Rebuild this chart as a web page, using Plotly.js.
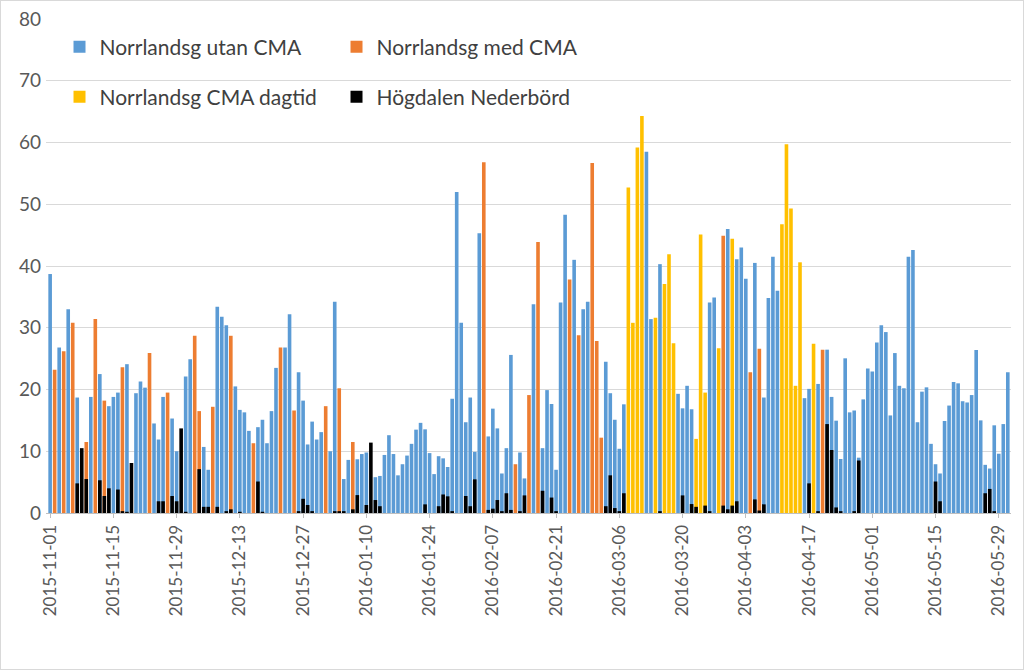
<!DOCTYPE html>
<html>
<head>
<meta charset="utf-8">
<script src="https://cdn.plot.ly/plotly-3.0.1.min.js"></script>
<style>
html,body{margin:0;padding:0;background:#fff;}
#chart{width:1022px;height:668px;border:1px solid #d9d9d9;}
</style>
</head>
<body>
<div id="chart"></div>
<script>
// Day index 0 = 2015-11-01 ... 212 = 2016-05-31
var startDate = '2015-11-01';
var seriesNames = ['Norrlandsg utan CMA', 'Norrlandsg med CMA', 'Norrlandsg CMA dagtid', 'Högdalen Nederbörd'];
var tickStart = '2015-11-01';

var utanCMA = [38.7,null,26.8,null,33.0,null,18.7,null,null,18.8,null,22.5,null,17.3,18.8,19.5,null,24.1,null,19.4,
21.3,20.3,null,14.5,11.9,18.8,null,15.3,10.0,null,22.1,24.9,null,null,10.7,7.0,null,33.4,31.8,30.4,
null,20.5,16.7,16.3,13.3,null,13.9,15.1,11.3,16.5,23.5,null,26.8,32.2,null,22.8,18.2,11.1,14.8,11.9,
13.1,null,10.0,34.2,null,5.5,8.6,null,8.7,9.55,9.8,null,5.8,6.0,9.4,12.6,9.55,6.1,7.9,9.3,
11.2,13.5,14.6,13.55,9.7,6.3,9.2,8.85,7.45,18.5,52.0,30.8,14.7,18.7,9.9,45.3,null,12.4,16.9,13.7,
6.4,10.5,25.6,null,9.8,5.6,null,33.8,null,10.5,19.9,17.65,7.0,34.1,48.3,null,41.0,null,33.0,34.2,
null,null,null,24.5,19.4,15.1,10.4,17.6,null,null,null,null,58.5,31.4,null,40.3,null,null,null,19.3,
16.95,20.6,16.8,null,null,null,34.1,34.9,null,null,46.0,null,41.1,43.0,37.95,null,40.5,null,18.7,34.8,
41.5,36.0,null,null,null,null,null,18.6,20.1,null,20.9,null,26.45,18.8,14.95,8.75,25.05,16.3,16.6,8.96,
18.4,23.4,22.9,27.6,30.4,29.3,15.8,25.9,20.6,20.2,41.5,42.6,14.7,19.65,20.35,11.2,7.9,6.4,14.9,17.4,
21.2,21.0,18.1,17.9,19.1,26.4,15.0,7.8,7.2,14.2,9.6,14.4,22.8];

var medCMA = [null,23.2,null,26.2,null,30.8,null,null,11.5,null,31.4,null,18.2,null,null,null,23.6,null,null,null,
null,null,25.9,null,null,null,19.5,null,null,null,null,null,28.7,16.5,null,null,17.2,null,null,null,
28.7,null,null,null,null,11.3,null,null,null,null,null,26.8,null,null,16.6,null,null,null,null,null,
null,17.3,null,null,20.2,null,null,11.5,null,null,null,null,null,null,null,null,null,null,null,null,
null,null,null,null,null,null,null,null,null,null,null,null,null,null,null,null,56.8,null,null,null,
null,null,null,7.9,null,null,19.1,null,43.9,null,null,null,null,null,null,37.8,null,28.8,null,null,
56.7,27.85,12.2,null,null,null,null,null,null,null,null,null,null,null,null,null,null,null,null,null,
null,null,null,null,null,null,null,null,null,44.9,null,null,null,null,null,22.8,null,26.6,null,null,
null,null,null,null,null,null,null,null,null,null,null,26.45,null,null,null,null,null,null,null,null,
null,null,null,null,null,null,null,null,null,null,null,null,null,null,null,null,null,null,null,null,
null,null,null,null,null,null,null,null,null,null,null,null,null];

var dagtidCMA = [null,null,null,null,null,null,null,null,null,null,null,null,null,null,null,null,null,null,null,null,
null,null,null,null,null,null,null,null,null,null,null,null,null,null,null,null,null,null,null,null,
null,null,null,null,null,null,null,null,null,null,null,null,null,null,null,null,null,null,null,null,
null,null,null,null,null,null,null,null,null,null,null,null,null,null,null,null,null,null,null,null,
null,null,null,null,null,null,null,null,null,null,null,null,null,null,null,null,null,null,null,null,
null,null,null,null,null,null,null,null,null,null,null,null,null,null,null,null,null,null,null,null,
null,null,null,null,null,null,null,null,52.7,30.8,59.2,64.3,null,null,31.6,null,37.1,41.9,27.5,null,
null,null,null,12.0,45.1,19.5,null,null,26.7,null,null,44.4,null,null,null,null,null,null,null,null,
null,null,46.75,59.7,49.3,20.6,40.6,null,null,27.4,null,null,null,null,null,null,null,null,null,null,
null,null,null,null,null,null,null,null,null,null,null,null,null,null,null,null,null,null,null,null,
null,null,null,null,null,null,null,null,null,null,null,null,null];

var nederbord = [null,null,null,null,null,null,4.8,10.5,5.5,null,null,5.3,2.75,4.0,null,3.8,0.3,0.2,8.1,null,
null,null,null,null,1.9,1.9,null,2.75,1.9,13.7,0.2,null,null,7.1,1.0,1.0,null,1.0,null,0.3,
0.6,null,0.2,null,null,null,5.1,0.2,null,null,null,null,null,null,null,0.3,2.3,1.3,0.3,null,
null,null,null,0.3,0.3,0.3,null,0.6,2.9,null,1.3,11.4,2.1,1.1,null,null,null,null,null,null,
null,null,null,1.4,null,null,1.1,3.0,2.7,0.3,null,null,2.75,1.1,5.45,null,null,0.5,0.7,2.1,
0.3,3.2,0.5,null,0.3,2.85,null,null,null,3.6,null,2.5,0.3,null,null,null,null,null,null,null,
null,null,null,1.1,6.1,0.8,0.3,3.2,null,null,null,null,null,null,null,0.3,null,null,null,null,
2.85,null,1.45,1.0,null,1.2,0.3,null,null,1.2,0.6,1.2,1.9,null,null,null,2.2,0.4,1.4,null,
null,null,null,null,null,null,null,null,4.8,null,0.3,null,14.4,10.2,0.9,0.3,null,null,0.3,8.5,
null,null,null,null,null,null,null,null,null,null,null,null,null,null,null,null,5.1,1.9,null,null,
null,null,null,null,null,null,null,3.2,3.9,0.3,null,null,null];

var DAY = 86400000;
var t0 = Date.UTC(2015, 10, 1);
var dates = utanCMA.map(function(_, i){
  var d = new Date(t0 + i*DAY);
  return d.toISOString().slice(0,10);
});

var barW = 0.8*DAY;
var fontFam = 'Lato, "Liberation Sans", sans-serif';
var colors = ['#5B9BD5', '#ED7D31', '#FFC000', '#000000'];
var values = [utanCMA, medCMA, dagtidCMA, nederbord];
var legends = ['legend', 'legend', 'legend2', 'legend2'];

var traces = values.map(function(v, k){
  return {
    type: 'bar', x: dates, y: v, name: seriesNames[k],
    marker: {color: colors[k], line: {width: 0}},
    width: barW, legend: legends[k], hoverinfo: 'x+y+name'
  };
});

var legendCommon = {
  orientation: 'h', xanchor: 'left', yanchor: 'middle',
  bgcolor: 'rgba(0,0,0,0)', font: {family: fontFam, size: 21, color: '#404040'},
  entrywidth: 232, entrywidthmode: 'pixels', traceorder: 'normal'
};

var layout = {
  width: 1022, height: 668,
  margin: {l: 45, r: 12, t: 18, b: 156},
  paper_bgcolor: '#ffffff', plot_bgcolor: '#ffffff',
  barmode: 'overlay',
  font: {family: fontFam, color: '#595959'},
  xaxis: {
    type: 'date',
    range: ['2015-10-31 02:00', '2016-05-31 17:00'],
    tick0: tickStart, dtick: 14*DAY, tickformat: '%Y-%m-%d', tickangle: -90,
    tickfont: {family: fontFam, size: 17, color: '#595959'},
    showgrid: false, zeroline: false,
    showline: true, linecolor: '#bfbfbf', linewidth: 1,
    ticks: 'outside', ticklen: 4, tickcolor: '#bfbfbf'
  },
  yaxis: {
    range: [0, 80], dtick: 10,
    tickfont: {family: fontFam, size: 19, color: '#595959'},
    gridcolor: '#d9d9d9', gridwidth: 1, zeroline: false, showline: false,
    ticks: '', ticklabelstandoff: 4
  },
  legend: Object.assign({x: 0.014, y: 0.943}, legendCommon),
  legend2: Object.assign({x: 0.014, y: 0.842}, legendCommon),
  showlegend: true
};

Plotly.newPlot('chart', traces, layout, {displayModeBar: false, staticPlot: true});
</script>
</body>
</html>
